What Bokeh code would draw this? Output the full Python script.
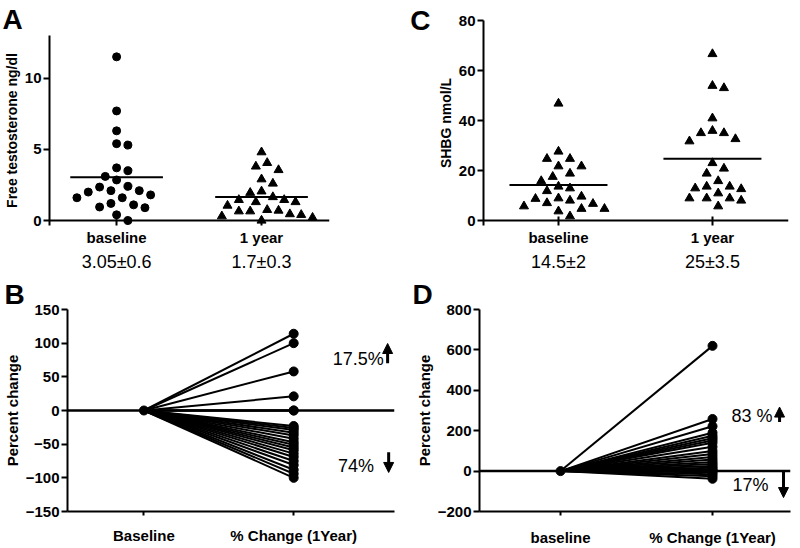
import numpy as np
from bokeh.plotting import figure
from bokeh.models import Range1d, FixedTicker, LinearAxis, Span, Label, Arrow, NormalHead
from bokeh.layouts import column, row
from bokeh.embed import file_html
from bokeh.resources import INLINE

FONT = "Liberation Sans"

# ---------------- data ----------------
group_labels = ["baseline", "1 year"]

ft_baseline = [11.5, 7.7, 6.3, 5.4, 5.3, 3.7, 3.1, 3.5, 2.85, 2.35, 2.4, 2.1, 2.0, 2.1,
               1.8, 1.6, 1.6, 1.2, 1.1, 0.95, 0.9, 0.4, 0.0]
ft_1year = [4.8, 4.05, 3.8, 3.55, 2.9, 2.6, 2.05, 1.95, 1.65, 1.45, 1.3, 1.3, 1.45, 1.05,
            0.65, 0.75, 0.4, 0.45, 0.3, 0.65, 0.7, 0.0, 0.2]
ft_summary = ["3.05\u00b10.6", "1.7\u00b10.3"]
ft_yticks = [0, 5, 10]

shbg_baseline = [46.8, 27.6, 24.7, 24.7, 21.7, 21.7, 18.8, 17.5, 15.8, 13.6, 12.9, 11.8,
                 8.9, 8.0, 8.7, 9.6, 5.7, 4.7, 7.0, 6.7, 4.7, 3.7, 1.7]
shbg_1year = [66.6, 53.0, 53.9, 40.9, 35.9, 35.0, 35.0, 32.6, 31.7, 23.0, 20.8, 18.8, 15.8,
              13.6, 12.9, 13.6, 12.6, 10.9, 8.9, 8.9, 8.0, 8.9, 5.7]
shbg_summary = ["14.5\u00b12", "25\u00b13.5"]
shbg_yticks = [0, 20, 40, 60, 80]

pct_labels_b = ["Baseline", "% Change (1Year)"]
ft_pct_change = [114, 100, 58, 21, 0, 0, -23, -26, -29, -33, -37, -42, -47, -51, -55,
                 -59, -64, -69, -75, -81, -88, -94, -100]
ft_pct_yticks = [-150, -100, -50, 0, 50, 100, 150]
ft_up_text, ft_down_text = "17.5%", "74%"

pct_labels_d = ["baseline", "% Change (1Year)"]
shbg_pct_change = [620, 258, 222, 190, 175, 163, 152, 140, 120, 100, 85, 70, 57, 45, 35,
                   25, 16, 9, 3, -6, -15, -26, -38]
shbg_pct_yticks = [-200, 0, 200, 400, 600, 800]
shbg_up_text, shbg_down_text = "83 %", "17%"

panel_letters = ["A", "B", "C", "D"]

# ---------------- helpers ----------------
W, H = 400, 274


def make_fig(letter, left, right, top, bottom, xr, yr, letter_offset=0, letter_standoff=0):
    p = figure(width=W, height=H, x_range=Range1d(*xr), y_range=Range1d(*yr),
               output_backend="svg", toolbar_location=None,
               x_axis_type=None, y_axis_type=None, title=letter,
               min_border_left=left, min_border_right=right,
               min_border_top=top, min_border_bottom=bottom)
    p.outline_line_color = None
    if letter:
        p.title.text_font = FONT
        p.title.text_font_size = "28px"
        p.title.text_font_style = "bold"
        p.title.text_color = "black"
        p.title.align = "left"
        p.title.offset = letter_offset
        p.title.standoff = letter_standoff
    return p


def letter_axis(p, letter, standoff=5):
    # the panel letter drawn as a horizontal tick label at the top of the frame
    p.extra_y_ranges = {"letter": Range1d(0, 1)}
    ax = LinearAxis(y_range_name="letter", ticker=FixedTicker(ticks=[1]),
                    major_label_overrides={1: letter},
                    axis_line_color=None, major_tick_line_color=None,
                    minor_tick_line_color=None, major_tick_out=0, major_tick_in=0,
                    minor_tick_out=0, minor_tick_in=0, major_label_standoff=standoff,
                    major_label_text_font=FONT, major_label_text_font_style="bold",
                    major_label_text_font_size="28px", major_label_text_color="black")
    p.add_layout(ax, "left")


def y_axis(p, ticks, label, label_size="14px"):
    ax = LinearAxis(ticker=FixedTicker(ticks=ticks), axis_label=label,
                    axis_line_width=2, major_tick_line_width=2,
                    major_tick_out=6, major_tick_in=0,
                    minor_tick_out=0, minor_tick_in=0,
                    major_label_standoff=2, axis_label_standoff=2,
                    major_label_text_font=FONT, major_label_text_font_style="bold",
                    major_label_text_font_size="15px", major_label_text_color="black",
                    axis_label_text_font=FONT, axis_label_text_font_style="bold",
                    axis_label_text_font_size=label_size, axis_label_text_color="black")
    p.add_layout(ax, "left")


def x_axis(p, labels, tick_in=0, tick_out=4, line=True, standoff=3):
    ax = LinearAxis(ticker=FixedTicker(ticks=[1, 2]),
                    major_label_overrides={1: labels[0], 2: labels[1]},
                    axis_line_width=2, major_tick_line_width=2,
                    axis_line_color="black" if line else None,
                    major_tick_out=tick_out, major_tick_in=tick_in,
                    minor_tick_out=0, minor_tick_in=0,
                    major_label_standoff=standoff,
                    major_label_text_font=FONT, major_label_text_font_style="bold",
                    major_label_text_font_size="15px", major_label_text_color="black")
    p.add_layout(ax, "below")


def summary_axis(p, labels):
    ax = LinearAxis(ticker=FixedTicker(ticks=[1, 2]),
                    major_label_overrides={1: labels[0], 2: labels[1]},
                    axis_line_color=None, major_tick_line_color=None,
                    minor_tick_line_color=None, major_tick_out=0, major_tick_in=0,
                    major_label_standoff=3,
                    major_label_text_font=FONT, major_label_text_font_size="18px",
                    major_label_text_color="black")
    p.add_layout(ax, "below")


def swarm(values, px_y, diam=11.0, step=5.75):
    vals = np.asarray(values, dtype=float)
    order = np.argsort(-vals, kind="stable")
    placed = []
    offs = np.zeros(len(vals))
    cands = [0.0]
    for k in range(1, 12):
        cands += [k * step, -k * step]
    for i in order:
        y = vals[i] * px_y
        for c in cands:
            if all((c - px) ** 2 + (y - py) ** 2 >= diam ** 2 for px, py in placed):
                break
        placed.append((c, y))
        offs[i] = c
    return offs


def scatter_panel(p, groups, markers, sizes, xr, yr, frame_w, frame_h, half_w_px):
    px_x = frame_w / (xr[1] - xr[0])
    px_y = frame_h / (yr[1] - yr[0])
    p.add_layout(Span(location=0, dimension="width", line_color="black", line_width=2))
    for gi, (vals, mk, sz) in enumerate(zip(groups, markers, sizes)):
        offs = swarm(vals, px_y) / px_x
        xpos = (gi + 1) + offs
        p.scatter(x=xpos, y=vals, marker=mk, size=sz, color="black")
        m = float(np.mean(vals))
        hw = half_w_px / px_x
        p.segment(x0=[gi + 1 - hw], x1=[gi + 1 + hw], y0=[m], y1=[m],
                  line_width=2, color="black")
    return px_y


# ---------------- Panel A ----------------
a_l, a_r, a_t, a_b = 45, 71, 33, 46
a_xr = (0.537, 2.469)
a_yr = (-0.35, 13.0)
pa = make_fig(panel_letters[0], a_l, a_r, a_t, a_b, a_xr, a_yr, -47, 2)
pya = scatter_panel(pa, [ft_baseline, ft_1year], ["circle", "triangle"], [8, 9], a_xr, a_yr,
                    W - a_l - a_r, H - a_t - a_b, 47)
y_axis(pa, ft_yticks, "Free testosterone ng/dl")
x_axis(pa, group_labels, tick_in=round(-a_yr[0] * pya) + 4, tick_out=0, line=False)
summary_axis(pa, ft_summary)

# ---------------- Panel C ----------------
c_l, c_r, c_t, c_b = 83, 12, 20, 46
c_xr = (0.513, 2.494)
c_yr = (-2.0, 80.0)
pc = make_fig(None, c_l, c_r, c_t, c_b, c_xr, c_yr)
pyc = scatter_panel(pc, [shbg_baseline, shbg_1year], ["triangle", "triangle"], [9, 9], c_xr, c_yr,
                    W - c_l - c_r, H - c_t - c_b, 49)
y_axis(pc, shbg_yticks, "SHBG nmol/L")
letter_axis(pc, panel_letters[2], 4)
x_axis(pc, group_labels, tick_in=round(-c_yr[0] * pyc) + 4, tick_out=0, line=False)
summary_axis(pc, shbg_summary)


# ---------------- change panels ----------------
def change_panel(p, vals):
    n = len(vals)
    p.add_layout(Span(location=0, dimension="width", line_color="black", line_width=2.5))
    p.multi_line(xs=[[1, 2] for _ in range(n)], ys=[[0, v] for v in vals],
                 line_color="black", line_width=2)
    p.scatter(x=[2] * n, y=vals, marker="circle", size=9, color="black")
    p.scatter(x=[1], y=[0], marker="circle", size=9, color="black")


def updown(p, up_text, down_text, up_lbl, up_arr, dn_lbl, dn_arr):
    for txt, (x, y) in ((up_text, up_lbl), (down_text, dn_lbl)):
        p.add_layout(Label(x=x, y=y, text=txt, text_align="right", text_baseline="middle",
                           text_font=FONT, text_font_size="18px", text_color="black"))
    for (x, y0, y1) in (up_arr, dn_arr):
        p.add_layout(Arrow(x_start=x, y_start=y0, x_end=x, y_end=y1, line_width=3,
                           line_color="black",
                           end=NormalHead(size=10, fill_color="black", line_color="black",
                                          line_width=1)))


# ---------------- Panel B ----------------
b_l, b_r, b_t, b_b = 60, 6, 35, 37
b_xr = (0.49, 2.673)
b_yr = (-150, 150)
pb = make_fig(panel_letters[1], b_l, b_r, b_t, b_b, b_xr, b_yr, -63, 0)
change_panel(pb, ft_pct_change)
y_axis(pb, ft_pct_yticks, "Percent change", "15px")
x_axis(pb, pct_labels_b, standoff=11)
updown(pb, ft_up_text, ft_down_text, (2.601, 77), (2.627, 70, 99.5),
       (2.536, -83), (2.634, -62, -92))

# ---------------- Panel D ----------------
d_l, d_r, d_t, d_b = 79, 10, 35, 36
d_xr = (0.467, 2.513)
d_yr = (-200, 800)
pd_ = make_fig(panel_letters[3], d_l, d_r, d_t, d_b, d_xr, d_yr, -67, 0)
change_panel(pd_, shbg_pct_change)
y_axis(pd_, shbg_pct_yticks, "Percent change", "15px")
x_axis(pd_, pct_labels_d, standoff=13)
updown(pd_, shbg_up_text, shbg_down_text, (2.395, 273), (2.441, 243, 317),
       (2.368, -67), (2.467, 0, -131))

layout = column(row(column(pa), column(pc)), row(column(pb), column(pd_)))

with open("out.html", "w") as f:
    f.write(file_html(layout, INLINE))
